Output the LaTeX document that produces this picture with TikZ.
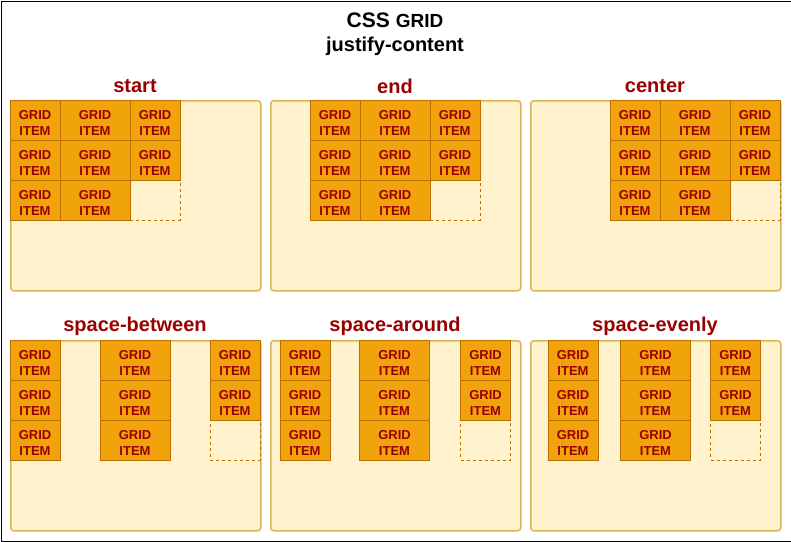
\documentclass[tikz,border=0pt]{standalone}
\usepackage{fontspec}
\setmainfont{Liberation Sans}
\definecolor{panelfill}{HTML}{FFF2CC}
\definecolor{panelstroke}{HTML}{D6B656}
\definecolor{itemfill}{HTML}{F0A30A}
\definecolor{itemstroke}{HTML}{BD7000}
\definecolor{itemtext}{HTML}{990000}
\tikzset{
  panelbox/.style={draw=panelstroke, fill=panelfill, line width=1.5pt, rounded corners=3pt, inner sep=0pt, anchor=north west},
  gitem/.style={draw=itemstroke, fill=itemfill, line width=0.8pt, minimum height=40pt, inner sep=0pt, align=center,
    text height=30pt, text depth=0pt,
    font=\bfseries\fontsize{13}{16}\selectfont, text=itemtext},
  gempty/.style={draw=itemstroke, dash pattern=on 3pt off 3pt, line width=0.8pt, minimum height=40pt, minimum width=50pt, inner sep=0pt},
  ptitle/.style={font=\bfseries\fontsize{20}{24}\selectfont, text=itemtext},
  mtitle/.style={font=\bfseries\fontsize{21}{24}\selectfont, text=black, inner sep=0pt}
}
% #1 prefix, #2 panel left, #3 panel top, #4 title, #5 c1 left, #6 c2 left, #7 c3 left
\newcommand\gpanel[7]{%
  \node[panelbox, minimum width=250pt, minimum height=190pt] (#1) at (#2,#3) {};
  \node[ptitle] (#1t) at (#2+125,#3-14) {#4};
  \foreach \r in {0,1,2}{
    \node[gitem, minimum width=50pt] (#1a\r) at (#5+25,#3+20+40*\r) {GRID\\ITEM};
    \node[gitem, minimum width=70pt] (#1b\r) at (#6+35,#3+20+40*\r) {GRID\\ITEM};
  }
  \foreach \r in {0,1}{
    \node[gitem, minimum width=50pt] (#1c\r) at (#7+25,#3+20+40*\r) {GRID\\ITEM};
  }
  \node[gempty] (#1c2) at (#7+25,#3+100) {};
}
\begin{document}
\begin{tikzpicture}[x=1pt,y=-1pt]
  \useasboundingbox (0,0) rectangle (791,541);
  \node[draw=black, line width=1pt, minimum width=790pt, minimum height=540pt, inner sep=0pt, anchor=north west] (frame) at (0.5,0.5) {};
  \node[mtitle, anchor=base] (t1) at (395,27) {CSS {\fontsize{19}{22}\selectfont GRID}};
  \node[mtitle, anchor=base, font=\bfseries\fontsize{20}{24}\selectfont] (t2) at (395,51) {justify-content};
  \gpanel{pa}{10}{100}{start}{10}{60}{130}
  \gpanel{pb}{270}{100}{end}{310}{360}{430}
  \gpanel{pc}{530}{100}{center}{610}{660}{730}
  \gpanel{pd}{10}{340}{space-between}{10}{100}{210}
  \gpanel{pe}{270}{340}{space-around}{280}{359.5}{460.5}
  \gpanel{pf}{530}{340}{space-evenly}{548}{620.5}{710.5}
\end{tikzpicture}
\end{document}
